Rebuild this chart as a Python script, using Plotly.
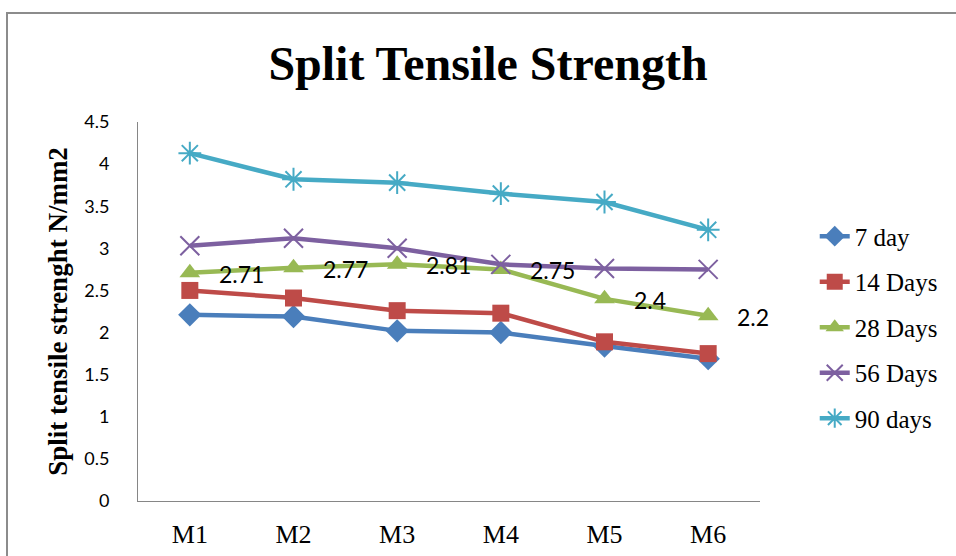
import plotly.graph_objects as go

categories = ["M1", "M2", "M3", "M4", "M5", "M6"]
day7 = [2.21, 2.19, 2.02, 2.00, 1.84, 1.69]
day14 = [2.50, 2.41, 2.26, 2.23, 1.89, 1.75]
day28 = [2.71, 2.77, 2.81, 2.75, 2.40, 2.20]
day56 = [3.03, 3.12, 3.00, 2.81, 2.76, 2.75]
day90 = [4.13, 3.82, 3.78, 3.65, 3.55, 3.22]
series_names = ["7 day", "14 Days", "28 Days", "56 Days", "90 days"]
y_ticks = [0, 0.5, 1, 1.5, 2, 2.5, 3, 3.5, 4, 4.5]

styles = [
    dict(color="#4A7EBB", symbol="diamond", size=18, lw=0),
    dict(color="#BE4B48", symbol="square", size=17, lw=0),
    dict(color="#98B954", symbol="triangle-up", size=18, lw=0),
    dict(color="#7D60A0", symbol="x-thin-open", size=19, lw=2),
    dict(color="#46AAC5", symbol="asterisk-open", size=19, lw=2),
]

fig = go.Figure()
for i, (name, vals) in enumerate(zip(series_names, [day7, day14, day28, day56, day90])):
    s = styles[i]
    fig.add_trace(go.Scatter(
        x=categories, y=vals, name=name, mode="lines+markers",
        legendgroup=name,
        line=dict(color=s["color"], width=4.5),
        marker=dict(symbol=s["symbol"], size=s["size"], color=s["color"],
                    line=dict(color=s["color"], width=s["lw"])),
    ))

for c, v in zip(categories, day28):
    fig.add_annotation(x=c, y=v, text=f"{v:g}", showarrow=False,
                       xanchor="left", yanchor="middle", xshift=27, yshift=-1,
                       font=dict(family="Lato", size=23, color="black"))

fig.add_shape(type="rect", xref="paper", yref="paper",
              x0=(7 - 138) / 622, x1=1.5, y0=-0.3, y1=(501 - 13) / 379,
              line=dict(color="#8C8C8C", width=2), fillcolor="rgba(0,0,0,0)")

fig.update_layout(
    width=956, height=556,
    margin=dict(l=138, r=196, t=122, b=55, autoexpand=False),
    paper_bgcolor="white", plot_bgcolor="white",
    title=dict(text="<b>Split Tensile Strength</b>", x=488 / 956, xanchor="center",
               y=1 - 63 / 556, yanchor="middle",
               font=dict(family="Liberation Serif", size=48, color="black")),
    xaxis=dict(type="category", range=[-0.5, 5.5], showgrid=False, zeroline=False,
               showline=True, linecolor="#868686", linewidth=1, ticks="",
               ticklabelstandoff=10, automargin=False,
               tickfont=dict(family="Liberation Serif", size=26, color="black")),
    yaxis=dict(range=[0, 4.5], tickvals=y_ticks, ticktext=[f"{t:g}" for t in y_ticks],
               showgrid=False, zeroline=False, showline=True, linecolor="#868686",
               linewidth=1, ticks="", ticklabelstandoff=24, automargin=False,
               tickfont=dict(family="Lato", size=18, color="black"),
               title=dict(text="<b>Split tensile strenght N/mm2</b>", standoff=8,
                          font=dict(family="Liberation Serif", size=27, color="black"))),
    legend=dict(x=1.088, y=0.458, xanchor="left", yanchor="middle", tracegroupgap=10,
                font=dict(family="Liberation Serif", size=25, color="black"),
                bgcolor="rgba(0,0,0,0)"),
    showlegend=True,
)

fig.write_html("out.html", config={"displayModeBar": False},
               post_script="document.body.style.margin='0px';document.body.style.overflow='hidden';")
